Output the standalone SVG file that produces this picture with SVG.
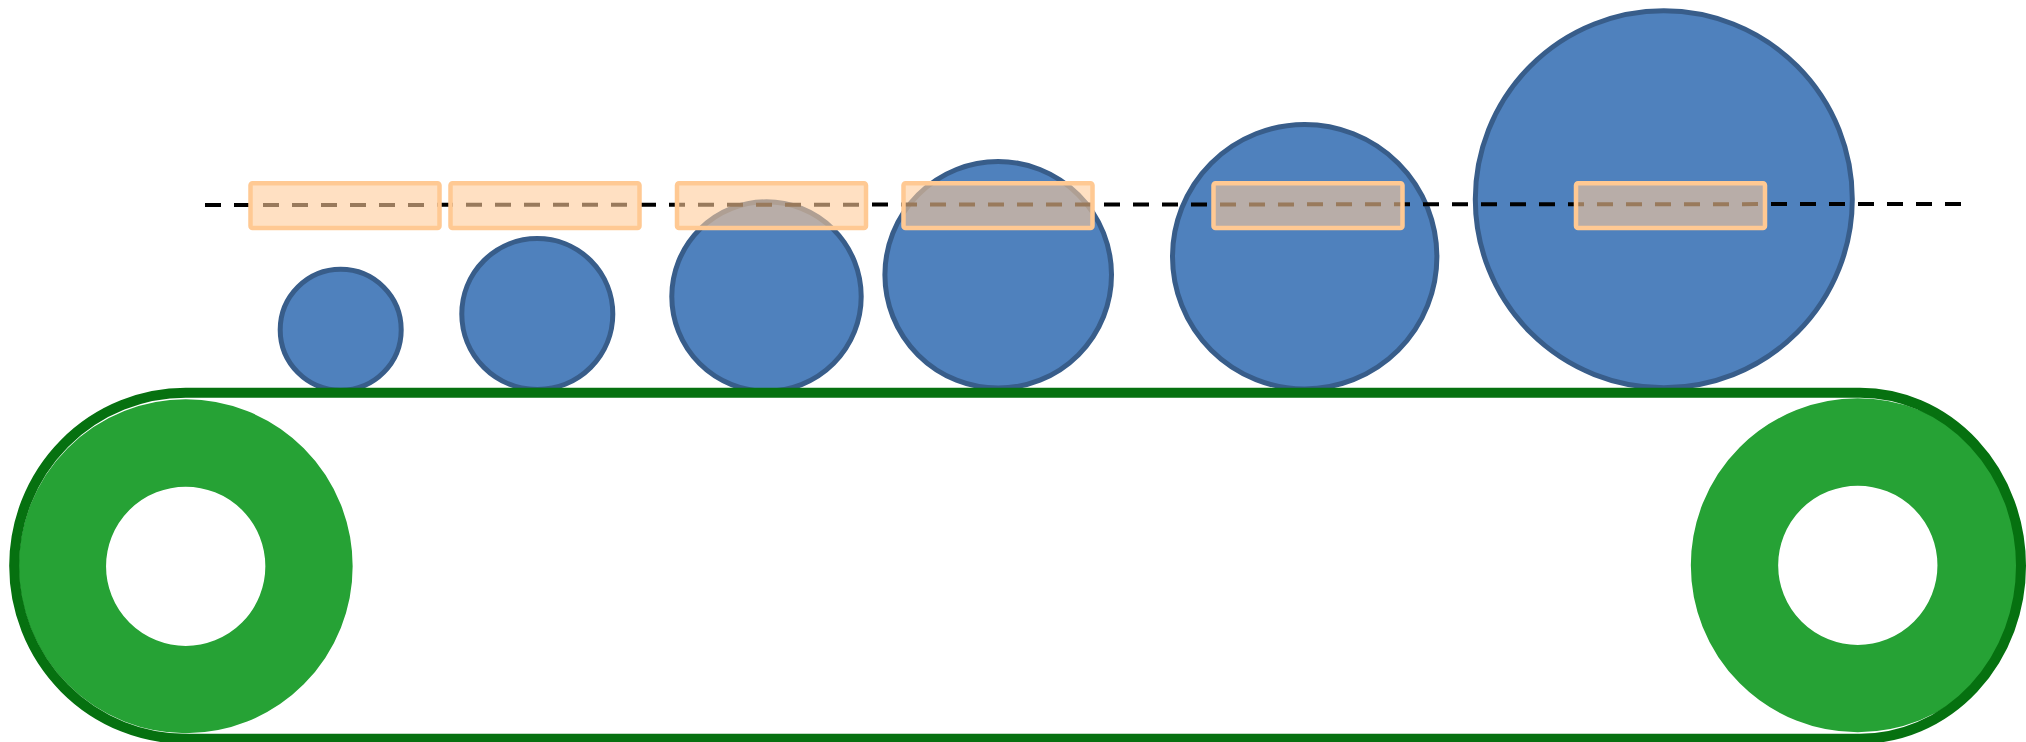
<svg xmlns="http://www.w3.org/2000/svg" width="2026" height="742" viewBox="0 0 2026 742">
  <style>
    .ring { fill: none; stroke: #26A235; stroke-width: 87.3; }
    .item { fill: #4F81BD; stroke: #385D8A; stroke-width: 5; }
    .belt { fill: none; stroke: #067110; stroke-width: 10; }
    .win { fill: #FFCC99; fill-opacity: 0.6; stroke: #FFC993; stroke-width: 4.5; }
    .level { stroke: #000000; stroke-width: 4; stroke-dasharray: 16 13; fill: none; }
  </style>
  <rect width="2026" height="742" fill="#FFFFFF"/>
  <g id="roller-left"><circle class="ring" cx="185.7" cy="566.3" r="123.3"/></g>
  <g id="roller-right"><circle class="ring" cx="1857.8" cy="565.3" r="123.3"/></g>
  <g id="item-1"><circle class="item" cx="340.7" cy="329.7" r="60.5"/></g>
  <g id="item-2"><circle class="item" cx="537.3" cy="314" r="75.5"/></g>
  <g id="item-3"><circle class="item" cx="766.5" cy="296.5" r="94.7"/></g>
  <g id="item-4"><circle class="item" cx="998.2" cy="274.8" r="113.3"/></g>
  <g id="item-5"><circle class="item" cx="1304.7" cy="256.7" r="132.2"/></g>
  <g id="item-6"><circle class="item" cx="1663.8" cy="199.3" r="188.5"/></g>
  <g id="belt"><path class="belt" d="M185.7,392.8 L1860,392.8 A161,173 0 0 1 1860,738.8 L185.7,738.8 A171.5,173 0 0 1 185.7,392.8 Z"/></g>
  <g id="connectors"><line class="level" x1="205" y1="205" x2="1968" y2="204"/></g>
  <g id="window-1"><rect class="win" x="250.5" y="183.2" width="189" height="44.8" rx="2"/></g>
  <g id="window-2"><rect class="win" x="450.5" y="183.2" width="189" height="44.8" rx="2"/></g>
  <g id="window-3"><rect class="win" x="677" y="183.2" width="189" height="44.8" rx="2"/></g>
  <g id="window-4"><rect class="win" x="903.5" y="183.2" width="189" height="44.8" rx="2"/></g>
  <g id="window-5"><rect class="win" x="1213.5" y="183.2" width="189" height="44.8" rx="2"/></g>
  <g id="window-6"><rect class="win" x="1576" y="183.2" width="189" height="44.8" rx="2"/></g>
</svg>
